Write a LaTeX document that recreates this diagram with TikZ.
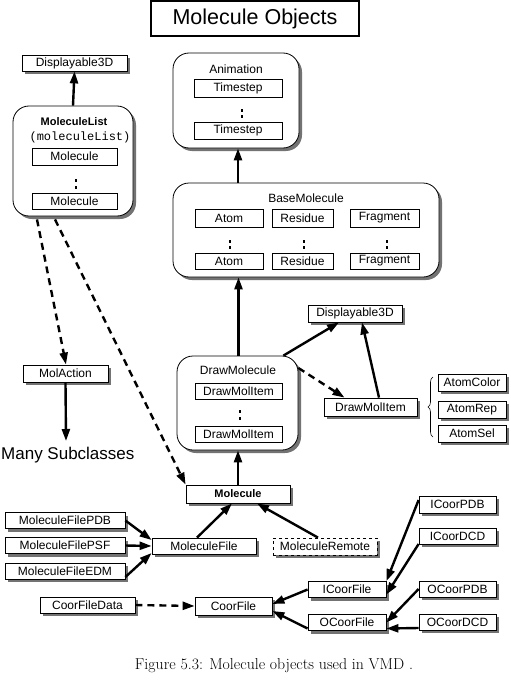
\documentclass[tikz,border=0pt]{standalone}
\usepackage{fontspec}
\newfontfamily\hv{Liberation Sans}
\newfontfamily\hvmono{Liberation Mono}
\usetikzlibrary{arrows.meta,decorations.pathreplacing}
\begin{document}
\begin{tikzpicture}[x=1pt,y=-1pt,
  sh/.style={preaction={fill=black!55,transform canvas={xshift=3pt,yshift=-3pt}}},
  ibox/.style={draw,line width=0.8pt,fill=white,inner sep=0pt,font=\hv\fontsize{12}{12}\selectfont},
  sbox/.style={ibox,sh},
  rbox/.style={draw,line width=0.8pt,fill=white,rounded corners=16pt,sh},
  lbl/.style={inner sep=0pt,font=\hv\fontsize{12}{12}\selectfont},
  arr/.style={line width=2.4pt,-{Triangle[length=12pt,width=8pt]}},
  darr/.style={arr,dash pattern=on 7pt off 5pt},
  dotm/.style={fill=black,minimum width=2.6,minimum height=3,inner sep=0pt}
]
\useasboundingbox (0,0) rectangle (511,685);

% title
\node[draw,line width=2pt,minimum width=208,minimum height=35,inner sep=0pt,
  font=\hv\fontsize{21.5}{22}\selectfont] (title) at (255,18.5) {Molecule Objects};

% MoleculeList
\node[sbox,minimum width=105,minimum height=16] (disp1) at (74.5,63) {Displayable3D};
\node[rbox,minimum width=120,minimum height=110] (mlist) at (73,161) {};
\node[lbl,font=\hv\bfseries\fontsize{11}{11}\selectfont] (mlname) at (74,122) {MoleculeList};
\node[inner sep=0pt,font=\hvmono\fontsize{12}{12}\selectfont] (mlvar) at (80,137) {(moleculeList)};
\node[ibox,minimum width=85,minimum height=17] (mol1) at (74.5,156.5) {Molecule};
\node[ibox,minimum width=85,minimum height=16] (mol2) at (74.5,201) {Molecule};
\node[dotm] (mld1) at (76,180) {};
\node[dotm] (mld2) at (76,187) {};

% Animation
\node[rbox,minimum width=126,minimum height=95] (anim) at (236,100.5) {};
\node[lbl] (animname) at (236,69) {Animation};
\node[ibox,minimum width=88,minimum height=18] (ts1) at (238,88) {Timestep};
\node[ibox,minimum width=88,minimum height=17] (ts2) at (238,130.5) {Timestep};
\node[dotm] (ad1) at (242,110) {};
\node[dotm] (ad2) at (242,116) {};

% BaseMolecule
\node[rbox,minimum width=266,minimum height=94] (base) at (306,230) {};
\node[lbl] (basename) at (306,198) {BaseMolecule};
\node[ibox,minimum width=68,minimum height=18] (atom1) at (229,218) {Atom};
\node[ibox,minimum width=61,minimum height=18] (res1) at (302.5,218) {Residue};
\node[ibox,minimum width=69,minimum height=18] (frag1) at (384.5,218) {Fragment};
\node[ibox,minimum width=68,minimum height=16] (atom2) at (229,261) {Atom};
\node[ibox,minimum width=61,minimum height=16] (res2) at (302.5,261) {Residue};
\node[ibox,minimum width=69,minimum height=16] (frag2) at (384.5,261) {Fragment};
\node[dotm] (bd1) at (230,241) {};
\node[dotm] (bd2) at (230,247) {};
\node[dotm] (bd3) at (304,241) {};
\node[dotm] (bd4) at (304,247) {};
\node[dotm] (bd5) at (387,241) {};
\node[dotm] (bd6) at (387,247) {};

% DrawMolecule
\node[rbox,minimum width=121,minimum height=94] (dm) at (237.5,403) {};
\node[lbl] (dmname) at (238,370) {DrawMolecule};
\node[ibox,minimum width=87,minimum height=16] (dmi1) at (238.5,391) {DrawMolItem};
\node[ibox,minimum width=87,minimum height=16] (dmi2) at (238.5,434) {DrawMolItem};
\node[dotm] (dd1) at (240,411) {};
\node[dotm] (dd2) at (240,418) {};

\node[sbox,minimum width=94,minimum height=17] (disp2) at (355,313.5) {Displayable3D};
\node[sbox,minimum width=93,minimum height=18] (dmir) at (370.5,407) {DrawMolItem};
\node[sbox,minimum width=68,minimum height=17] (acol) at (472,382.5) {AtomColor};
\node[sbox,minimum width=68,minimum height=17] (arep) at (472,409.5) {AtomRep};
\node[sbox,minimum width=68,minimum height=17] (asel) at (472,433.5) {AtomSel};
\coordinate (brb) at (433,437);
\coordinate (brt) at (433,377);
\draw[line width=0.6pt,decorate,decoration={brace,amplitude=5pt}] (brb) -- (brt);

% MolAction
\node[sbox,minimum width=85,minimum height=17] (molact) at (65.5,373.5) {MolAction};
\node[anchor=base west,inner sep=0pt,font=\hv\fontsize{17}{17}\selectfont] (many) at (1,459) {Many Subclasses};
\coordinate (manytop) at (66,441);

% Molecule
\node[sbox,minimum width=104,minimum height=18,font=\hv\bfseries\fontsize{11}{11}\selectfont] (molecule) at (238,494) {Molecule};

% files
\node[sbox,minimum width=120,minimum height=16] (mfpdb) at (65,520.5) {MoleculeFilePDB};
\node[sbox,minimum width=120,minimum height=16] (mfpsf) at (65,545.5) {MoleculeFilePSF};
\node[sbox,minimum width=120,minimum height=16] (mfedm) at (65,571) {MoleculeFileEDM};
\node[sbox,minimum width=104,minimum height=16] (mfile) at (204,546) {MoleculeFile};
\node[sbox,dashed,minimum width=104,minimum height=17] (mremote) at (325,546.5) {MoleculeRemote};
\node[sbox,minimum width=95,minimum height=16] (cfdata) at (87.5,605) {CoorFileData};
\node[sbox,minimum width=77,minimum height=18] (cfile) at (233.5,606) {CoorFile};
\node[sbox,minimum width=78,minimum height=16] (icfile) at (347,589.5) {ICoorFile};
\node[sbox,minimum width=78,minimum height=16] (ocfile) at (347,622.5) {OCoorFile};
\node[sbox,minimum width=77,minimum height=17] (icpdb) at (457.5,504.5) {ICoorPDB};
\node[sbox,minimum width=77,minimum height=16] (icdcd) at (457.5,536) {ICoorDCD};
\node[sbox,minimum width=77,minimum height=16] (ocpdb) at (457.5,589) {OCoorPDB};
\node[sbox,minimum width=77,minimum height=16] (ocdcd) at (457.5,622) {OCoorDCD};

% caption
\node[inner sep=0pt,font=\fontsize{15.8}{18}\selectfont] (cap) at (274,666) {Figure 5.3: Molecule objects used in VMD .};

% connectors
\draw[arr] (mlist.north) -- (disp1.south);
\draw[arr] (base.north -| ts2) -- (ts2 |- anim.south);
\draw[arr] (dm.north -| dmi1) -- (dmi1 |- base.south);
\draw[arr] (molecule.north) -- (molecule.north |- dm.south);
\draw[arr] ([xshift=-15pt]dm.north east) -- ([xshift=-16pt]disp2.south);
\draw[arr] ([xshift=8.5pt]dmir.north) -- ([xshift=7pt]disp2.south);
\draw[darr] ([yshift=35pt]dm.east) -- ([xshift=-26pt]dmir.north);
\draw[darr] ([xshift=-36pt,yshift=-3pt]mlist.south) -- ([xshift=0.5pt]molact.north);
\draw[darr] ([xshift=-18pt,yshift=-3pt]mlist.south) -- (molecule.north west);
\draw[arr] (molact.south) -- (manytop);
\draw[arr] (mfpdb.east) -- ([yshift=6pt]mfile.west);
\draw[arr] (mfpsf.east) -- (mfile.west);
\draw[arr] ([yshift=-6pt]mfedm.east) -- ([yshift=-7pt]mfile.west);
\draw[arr] ([xshift=-7pt]mfile.north) -- ([xshift=-6pt]molecule.south);
\draw[arr] ([xshift=-7pt]mremote.north) -- ([xshift=19pt]molecule.south);
\draw[darr] (cfdata.east) -- (cfile.west);
\draw[arr] (icfile.west) -- ([yshift=2pt]cfile.east);
\draw[arr] ([yshift=-6pt]ocfile.west) -- ([yshift=-5pt]cfile.east);
\draw[arr] ([yshift=4.5pt]icpdb.west) -- (icfile.north east);
\draw[arr] ([yshift=-8pt]icdcd.west) -- ([yshift=-5pt]icfile.east);
\draw[arr] (ocpdb.west) -- (ocfile.east);
\draw[arr] ([yshift=-6pt]ocdcd.west) -- ([yshift=-6pt]ocfile.east);
\end{tikzpicture}
\end{document}
